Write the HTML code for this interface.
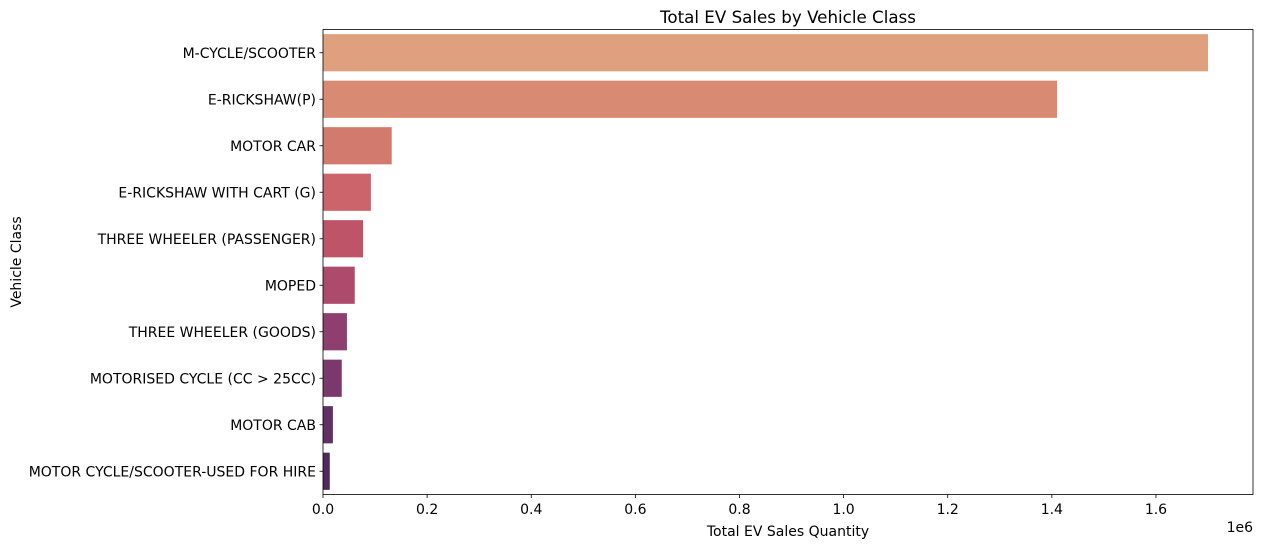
<!DOCTYPE html>
<html><head><meta charset="utf-8"><style>
body{margin:0;background:#fff;font-family:"Liberation Sans","DejaVu Sans",sans-serif;}
svg text{font-family:"DejaVu Sans","Liberation Sans",sans-serif;}
</style></head><body>
<svg id="chart" width="1263" height="547" xmlns="http://www.w3.org/2000/svg">
<rect width="1263" height="547" fill="#fff"/>
<g id="bars"></g>
<g id="xticks"></g>
<g id="yticks"></g>
<rect x="323" y="29.5" width="930" height="465" fill="none" stroke="#000" stroke-width="0.8"/>
<text x="788" y="23" font-size="16.7" text-anchor="middle">Total EV Sales by Vehicle Class</text>
<text x="788" y="536" font-size="14" text-anchor="middle">Total EV Sales Quantity</text>
<text x="1253" y="532" font-size="14" text-anchor="end">1e6</text>
<text x="21" y="262" font-size="14" text-anchor="middle" transform="rotate(-90 21 262)">Vehicle Class</text>
</svg>
<script>
const categories=["M-CYCLE/SCOOTER","E-RICKSHAW(P)","MOTOR CAR","E-RICKSHAW WITH CART (G)","THREE WHEELER (PASSENGER)","MOPED","THREE WHEELER (GOODS)","MOTORISED CYCLE (CC > 25CC)","MOTOR CAB","MOTOR CYCLE/SCOOTER-USED FOR HIRE"];
const values=[1.70,1.41,0.132,0.092,0.077,0.061,0.046,0.036,0.019,0.013];
const xTicks=[0,0.2,0.4,0.6,0.8,1.0,1.2,1.4,1.6];
const colors=["#dfa07f","#d98a73","#d37a6e","#cc656b","#be5468","#ac4b6c","#8f3f6f","#7a386c","#623063","#4f2a58"];
(function(){
const NS="http://www.w3.org/2000/svg";
const x0=323,pxPerUnit=520.6,plotTop=29.5,band=46.5;
const xs=v=>x0+v*pxPerUnit;
const ys=i=>plotTop+band*i+band/2;
const bars=document.getElementById('bars'),xt=document.getElementById('xticks'),yt=document.getElementById('yticks');
function mk(t,a){const e=document.createElementNS(NS,t);for(const k in a)e.setAttribute(k,a[k]);return e;}
categories.forEach((c,i)=>{
 const r=mk('rect',{x:x0,y:ys(i)-band*0.4,width:xs(values[i])-x0,height:band*0.8,fill:colors[i]});
 
 
 bars.appendChild(r);
 const l=mk('line',{x1:x0-3.5,x2:x0,y1:ys(i),y2:ys(i),stroke:'#000','stroke-width':0.8});
 
 
 yt.appendChild(l);
 const t=mk('text',{x:x0-7,y:ys(i)+5,'font-size':14,'text-anchor':'end'});
 t.textContent=c;
 
 
 yt.appendChild(t);
});
xTicks.forEach(v=>{
 const l=mk('line',{x1:xs(v),x2:xs(v),y1:494.5,y2:498,stroke:'#000','stroke-width':0.8});
 
 
 xt.appendChild(l);
 const t=mk('text',{x:xs(v),y:514,'font-size':14,'text-anchor':'middle'});
 t.textContent=v.toFixed(1);
 
 
 xt.appendChild(t);
});
})();
</script>
</body></html>
